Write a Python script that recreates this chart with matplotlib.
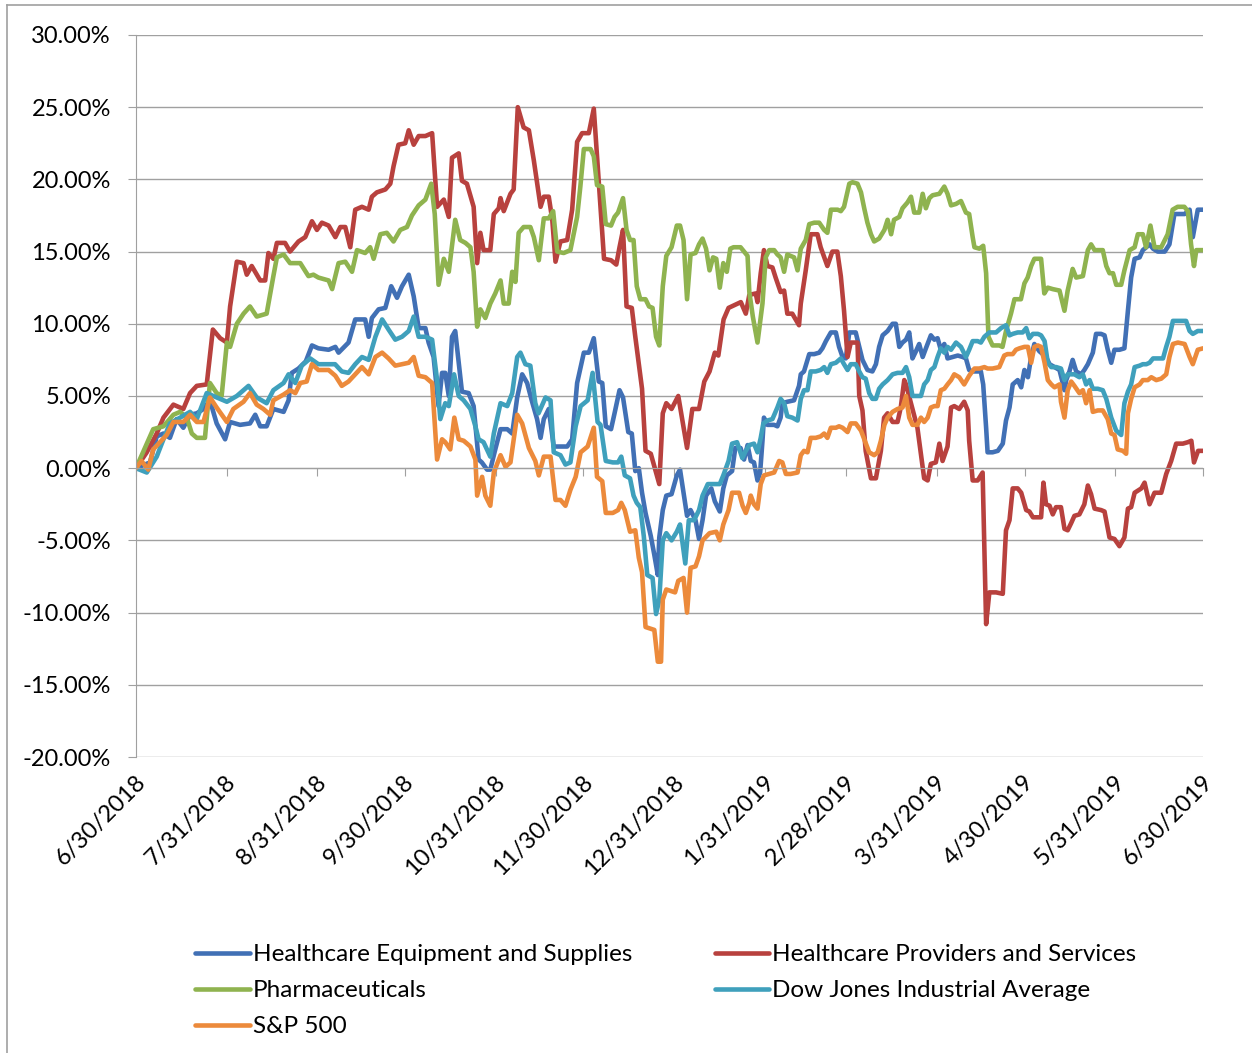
import matplotlib.pyplot as plt
import matplotlib.transforms as mtransforms
from matplotlib.lines import Line2D
import pandas as pd

plt.rcParams["font.family"] = ["Lato", "DejaVu Sans"]

start = pd.Timestamp("2018-06-30")
end = pd.Timestamp("2019-06-30")

# Days after 6/30/2018 and cumulative return (%) for each series
equip_days = [0, 4.8, 7.1, 9.4, 11.6, 13.9, 16.2, 18.5, 20.8, 23.1, 25.3, 27.6, 30.5, 32.2, 35.6, 39.0, 40.8, 42.5, 44.7, 47.0,
              50.5, 52.2, 53.3, 55.6, 58.1, 60.2, 62.4, 65.9, 68.2, 69.3, 72.7, 75.0, 78.4, 79.6, 80.7, 83.0, 85.3, 87.3, 89.3,
              91.0, 93.3, 95.0, 96.7, 99.0, 100.1, 101.8, 103.5, 104.7, 105.8, 107.0, 108.1, 109.2, 110.4, 111.5, 113.8, 115.5,
              117.2, 118.3, 120.1, 121.2, 122.9, 124.7, 127.0, 128.7, 130.4, 132.1, 133.8, 135.5, 137.2, 138.4, 139.5, 141.2,
              142.9, 147.5, 149.2, 150.9, 153.2, 154.9, 156.6, 158.3, 159.5, 160.7, 162.5, 163.7, 165.4, 166.6, 168.4, 169.6,
              170.8, 172.0, 173.1, 174.3, 176.1, 177.3, 178.5, 179.0, 180.2, 181.4, 183.2, 185.0, 186.1, 187.3, 188.5, 189.7,
              191.4, 192.6, 193.8, 195.0, 196.8, 198.0, 199.7, 200.9, 202.1, 203.9, 205.0, 206.8, 208.0, 209.2, 210.3, 211.4,
              212.6, 213.5, 214.3, 214.8, 216.0, 218.3, 219.4, 220.5, 221.1, 222.8, 225.1, 226.8, 227.4, 228.5, 230.3, 232.0,
              233.7, 234.8, 236.0, 237.7, 239.4, 240.5, 241.7, 242.8, 244.0, 246.2, 247.4, 248.5, 250.2, 251.9, 253.1, 254.2,
              255.4, 257.1, 258.8, 259.9, 261.1, 262.2, 263.4, 264.5, 265.6, 266.8, 267.9, 269.1, 270.2, 271.9, 273.1, 274.2,
              275.3, 276.5, 277.6, 279.3, 281.1, 282.8, 283.9, 285.0, 286.2, 287.9, 289.0, 289.8, 290.8, 291.3, 293.0, 294.8,
              296.5, 297.6, 298.8, 299.9, 301.6, 302.8, 303.9, 305.1, 306.2, 307.3, 309.0, 311.3, 312.5, 314.2, 315.9, 317.6,
              318.2, 319.3, 320.4, 321.6, 323.3, 324.4, 325.6, 327.3, 328.4, 330.1, 331.3, 332.4, 333.6, 334.7, 336.4, 338.1,
              339.3, 340.4, 341.6, 343.3, 344.4, 345.6, 346.7, 347.9, 349.5, 351.9, 353.5, 355.2, 356.4, 358.7, 360.4, 361.5,
              363.2, 365.0]
equip_vals = [0, 0.4, 2.2, 2.4, 2.1, 3.4, 2.8, 3.7, 3.8, 4.1, 4.7, 3.1, 2.0, 3.2, 3.0, 3.1, 3.7, 2.9, 2.9, 4.1,
              3.9, 4.7, 6.6, 6.9, 7.4, 8.5, 8.3, 8.2, 8.4, 8.0, 8.7, 10.3, 10.3, 9.1, 10.4, 11.0, 11.1, 12.6, 11.8,
              12.6, 13.4, 11.9, 9.7, 9.7, 8.7, 7.7, 4.3, 6.6, 6.6, 5.0, 9.1, 9.5, 7.3, 5.3, 5.2, 4.3,
              0.6, 0.4, -0.1, -0.1, 1.3, 2.7, 2.7, 2.4, 4.9, 6.5, 5.9, 4.6, 3.4, 2.1, 3.4, 4.1,
              1.5, 1.5, 2.0, 5.9, 8.0, 8.0, 9.0, 6.0, 5.9, 2.9, 2.7, 3.8, 5.4, 4.9, 2.5, 2.4,
              -0.2, 0.0, -1.7, -3.1, -4.7, -6.0, -7.4, -4.8, -2.9, -1.9, -1.8, -0.5, -0.1, -1.7, -3.3, -2.9,
              -3.6, -4.9, -3.6, -1.9, -1.4, -2.3, -3.0, -1.4, -0.5, -0.2, 1.4, 1.4, 0.6, 1.6, 0.5, 0.4,
              -0.85, -0.3, 1.9, 3.5, 3.0, 3.0, 2.9, 3.5, 4.5, 4.6, 4.7, 5.7, 6.5, 6.7, 7.9, 7.9,
              8.0, 8.3, 8.8, 9.4, 9.4, 8.4, 7.7, 7.6, 9.4, 9.4, 8.4, 7.5, 6.8, 6.7, 7.2, 8.4,
              9.2, 9.5, 10.0, 10.0, 8.4, 8.7, 8.9, 9.4, 7.6, 8.1, 8.6, 7.7, 8.3, 9.2, 8.9, 9.0,
              8.2, 8.6, 7.6, 7.7, 7.8, 7.7, 7.6, 6.8, 6.7, 6.7, 6.7, 5.8, 2.8, 1.1, 1.1, 1.2,
              1.7, 3.3, 4.2, 5.8, 6.1, 5.6, 6.8, 6.3, 7.7, 8.6, 8.1, 7.7, 7.2, 7.0, 6.8, 5.4,
              6.1, 6.7, 7.5, 6.7, 6.5, 6.8, 7.2, 8.0, 9.3, 9.3, 9.2, 8.2, 7.3, 8.2, 8.2, 8.3,
              10.9, 13.2, 14.5, 14.6, 15.1, 15.3, 15.5, 15.2, 15.0, 15.0, 15.5, 17.6, 17.6, 17.6, 17.9, 16.0,
              17.9, 17.9]

prov_days = [0, 3.7, 7.1, 9.4, 12.8, 16.2, 18.5, 20.8, 24.2, 26.3, 28.8, 31.1, 32.2, 34.5, 36.8, 37.9, 39.6, 42.5, 44.2,
             45.3, 47.0, 48.2, 51.0, 52.7, 55.6, 57.9, 60.2, 61.9, 63.6, 65.9, 68.2, 69.9, 71.6, 73.3, 75.0, 77.3, 79.6,
             80.7, 82.4, 85.3, 87.0, 88.1, 89.8, 92.1, 93.3, 95.0, 96.7, 99.0, 101.3, 103.0, 105.3, 107.0, 108.1, 110.4,
             111.5, 113.2, 115.5, 116.7, 117.8, 118.9, 121.2, 122.4, 124.1, 124.7, 125.8, 128.1, 129.2, 130.6, 132.6,
             134.4, 136.1, 138.4, 139.5, 141.2, 142.4, 143.5, 145.2, 147.5, 149.2, 150.9, 152.6, 154.9, 156.6, 157.8,
             160.1, 162.5, 164.3, 165.4, 166.6, 167.8, 169.6, 170.8, 173.1, 174.3, 176.1, 179.0, 180.2, 181.4, 183.2,
             185.5, 188.5, 190.3, 192.6, 194.4, 196.2, 198.0, 199.2, 201.0, 202.7, 206.9, 208.6, 209.8, 212.0, 212.6,
             213.7, 214.8, 216.0, 217.7, 218.8, 220.5, 221.7, 222.8, 224.5, 226.8, 227.4, 229.1, 230.8, 233.1, 234.2,
             236.5, 238.2, 239.9, 241.1, 242.2, 243.4, 244.5, 246.8, 247.4, 248.5, 249.6, 251.4, 253.1, 254.8, 255.9,
             257.1, 258.8, 260.5, 261.6, 262.8, 263.4, 267.3, 269.6, 270.8, 271.9, 273.6, 274.8, 275.9, 277.6, 278.8,
             279.9, 281.6, 283.3, 284.5, 285.0, 286.2, 287.9, 289.6, 290.8, 291.9, 294.2, 296.5, 297.6, 298.8, 299.9,
             301.6, 302.8, 304.5, 305.6, 306.8, 308.5, 309.6, 310.4, 311.3, 312.5, 313.6, 314.7, 316.4, 317.6, 318.7,
             319.9, 321.0, 322.7, 324.4, 325.6, 326.7, 327.9, 330.1, 331.3, 333.0, 334.7, 336.4, 338.1, 339.3, 340.4,
             341.6, 343.9, 345.0, 346.7, 348.4, 350.7, 352.4, 354.1, 355.8, 358.1, 359.8, 361.0, 361.9, 363.3, 365.0]
prov_vals = [0, 1.1, 2.4, 3.5, 4.4, 4.1, 5.2, 5.7, 5.8, 9.6, 9.0, 8.7, 11.2, 14.3, 14.2, 13.4, 14.0, 13.0, 13.0,
             14.9, 14.5, 15.6, 15.6, 15.0, 15.7, 16.0, 17.1, 16.5, 17.0, 16.8, 16.0, 16.7, 16.7, 15.3, 17.9, 18.1, 17.9,
             18.8, 19.1, 19.3, 19.7, 20.9, 22.4, 22.5, 23.4, 22.4, 23.0, 23.0, 23.2, 18.1, 18.6, 17.4, 21.5, 21.8,
             19.9, 19.7, 18.1, 14.2, 16.3, 15.1, 15.1, 17.6, 18.0, 18.7, 17.8, 19.0, 19.3, 25.0, 23.6,
             23.4, 21.3, 18.1, 18.8, 18.8, 17.2, 14.3, 15.7, 15.8, 17.9, 22.6, 23.2, 23.2, 24.9, 21.3,
             14.5, 14.4, 14.1, 15.3, 16.5, 11.2, 11.1, 9.1, 5.5, 1.2, 1.0, -1.1, 3.8, 4.5, 4.1,
             5.0, 1.4, 4.1, 4.1, 6.0, 6.7, 8.0, 7.8, 10.3, 11.1, 11.5, 10.7, 12.0, 12.1, 11.5,
             13.5, 15.1, 14.0, 13.9, 13.2, 12.2, 12.3, 10.7, 10.7, 9.9, 11.4, 13.7, 16.2, 16.2, 15.3,
             14.0, 15.0, 15.0, 13.3, 10.9, 7.7, 8.7, 8.7, 5.0, 4.0, 1.2, -0.7, -0.7, 1.2, 3.5,
             3.8, 3.2, 3.2, 4.2, 6.1, 5.8, 2.8, -0.7, -0.85, 0.3, 0.4, 1.7, 0.5, 1.5, 4.2,
             4.3, 4.1, 4.6, 4.0, 1.9, -0.85, -0.85, -0.3, -10.8, -8.6, -8.6, -8.7, -4.3, -3.6, -1.4,
             -1.4, -1.7, -2.9, -3.0, -3.4, -3.4, -3.4, -1.0, -2.5, -2.6, -3.2, -2.7, -2.7, -4.2, -4.3,
             -3.8, -3.3, -3.2, -2.5, -1.2, -1.8, -2.8, -2.9, -3.0, -4.8, -4.9, -5.4, -4.8, -2.8, -2.7,
             -1.7, -1.4, -1.0, -2.5, -1.7, -1.7, -0.4, 0.5, 1.7, 1.7, 1.8, 1.9, 0.4, 1.2, 1.2]

pharma_days = [0, 5.9, 9.4, 12.8, 15.1, 17.4, 19.1, 20.8, 23.6, 25.3, 27.6, 29.3, 31.1, 32.2, 34.5, 36.8, 39.0, 41.3, 44.7,
               47.0, 48.2, 50.5, 52.7, 56.2, 59.0, 60.7, 62.4, 65.9, 67.1, 69.3, 71.6, 73.9, 75.6, 78.4, 80.1, 81.3, 83.6,
               85.8, 88.1, 90.4, 92.7, 94.4, 96.7, 99.0, 101.0, 102.2, 103.5, 105.3, 107.0, 109.2, 110.9, 112.7, 114.4,
               115.5, 116.7, 117.8, 119.5, 121.2, 122.9, 124.7, 125.8, 127.5, 128.7, 129.8, 130.9, 132.6, 134.9, 136.1,
               137.8, 139.5, 141.2, 142.7, 144.1, 146.3, 148.6, 150.9, 152.0, 153.2, 155.5, 156.6, 157.7, 159.5, 160.7,
               162.5, 163.7, 164.9, 166.6, 167.8, 169.0, 170.2, 171.3, 172.5, 174.3, 175.5, 176.7, 177.9, 179.0, 180.2,
               181.4, 183.2, 185.0, 186.1, 187.3, 188.5, 189.7, 191.4, 192.6, 193.8, 195.0, 196.2, 197.4, 198.5, 199.7,
               200.9, 202.1, 203.3, 204.4, 206.8, 209.2, 209.8, 211.0, 212.6, 214.3, 215.4, 216.6, 218.3, 219.4, 220.5,
               221.7, 222.8, 223.9, 225.1, 226.3, 227.4, 229.1, 230.3, 232.0, 233.7, 235.4, 236.5, 237.7, 240.0, 241.1,
               242.2, 244.0, 245.1, 246.8, 248.0, 249.1, 250.2, 251.4, 252.5, 254.2, 256.0, 257.1, 258.3, 259.3, 261.1,
               262.2, 263.9, 265.1, 266.2, 267.9, 269.1, 270.2, 271.4, 272.5, 274.8, 276.5, 277.6, 278.8, 280.5, 282.2,
               283.9, 285.0, 286.2, 286.8, 288.5, 289.8, 290.8, 291.6, 293.0, 295.3, 296.4, 297.6, 299.3, 300.5, 302.7,
               303.9, 305.0, 306.2, 307.3, 309.6, 310.7, 311.9, 313.6, 315.9, 317.6, 318.7, 320.4, 321.6, 323.9, 325.6,
               326.7, 327.9, 330.7, 331.9, 333.0, 334.2, 335.3, 337.0, 338.1, 339.9, 341.6, 342.7, 344.4, 345.5, 347.0,
               348.4, 350.7, 352.9, 354.6, 356.3, 358.6, 359.8, 360.9, 361.9, 362.7, 364.4, 365.0]
pharma_vals = [0, 2.7, 2.9, 3.7, 3.9, 3.5, 2.4, 2.1, 2.1, 5.9, 5.2, 5.0, 8.7, 8.4, 10.0, 10.7, 11.2, 10.5, 10.7,
               13.3, 14.6, 14.8, 14.2, 14.2, 13.3, 13.4, 13.2, 13.0, 12.4, 14.2, 14.3, 13.6, 15.1, 14.9, 15.3, 14.5, 16.2,
               16.3, 15.7, 16.5, 16.7, 17.5, 18.2, 18.6, 19.7, 17.6, 12.7, 14.5, 13.6, 17.2, 15.8, 15.6, 15.3,
               13.6, 9.8, 11.0, 10.4, 11.4, 12.1, 13.0, 11.4, 11.4, 13.6, 12.9, 16.3, 16.7, 16.7, 16.0,
               14.4, 17.3, 17.3, 17.8, 15.0, 14.9, 15.1, 17.4, 19.5, 22.1, 22.1, 21.6, 19.6, 19.5, 16.9,
               16.8, 17.4, 17.7, 18.7, 16.5, 15.8, 15.8, 12.6, 11.7, 11.7, 11.2, 11.1, 9.1, 8.5, 12.6,
               14.7, 15.3, 16.8, 16.8, 15.8, 11.7, 14.8, 14.9, 15.5, 15.9, 15.2, 13.7, 14.6, 14.5, 12.5,
               14.2, 13.6, 15.2, 15.3, 15.3, 14.7, 12.2, 10.5, 8.7, 11.4, 14.6, 15.1, 15.1, 14.8, 14.6,
               13.6, 14.8, 14.7, 14.6, 13.7, 15.2, 15.8, 16.9, 17.0, 17.0, 16.5, 16.3, 17.9, 17.9, 17.8,
               18.1, 19.7, 19.8, 19.7, 19.1, 18.0, 17.0, 16.2, 15.7, 15.9, 16.5, 17.2, 16.2, 17.2, 17.4,
               18.0, 18.4, 18.8, 17.7, 17.7, 19.0, 18.0, 18.7, 18.9, 19.0, 19.5, 19.0, 18.2, 18.3, 18.5,
               17.7, 17.6, 16.0, 15.3, 15.2, 15.4, 13.5, 9.1, 8.5, 8.5, 8.4, 9.5, 10.7, 11.7, 11.7,
               12.8, 13.2, 14.0, 14.5, 14.5, 12.1, 12.5, 12.4, 12.3, 10.9, 12.3, 13.8, 13.2, 13.3, 15.1,
               15.5, 15.1, 15.1, 14.0, 13.5, 13.5, 12.7, 12.7, 13.7, 15.1, 15.3, 16.2, 16.2, 15.3, 16.8,
               15.3, 15.3, 16.2, 17.9, 18.1, 18.1, 17.8, 15.5, 14.0, 15.1, 15.1, 15.1]

dow_days = [0, 3.7, 7.1, 9.4, 11.6, 15.1, 18.5, 20.8, 24.2, 27.6, 31.1, 34.5, 38.5, 41.3, 44.7, 47.0, 50.5, 52.2, 54.5,
            56.7, 59.6, 62.4, 68.1, 70.4, 72.7, 75.0, 77.3, 79.6, 81.9, 84.2, 86.4, 88.7, 91.0, 93.3, 95.0, 96.7, 99.0,
            101.3, 103.0, 104.1, 105.8, 107.0, 108.8, 110.4, 112.1, 114.4, 116.1, 117.2, 118.9, 121.2, 122.4, 124.7,
            127.0, 128.7, 130.4, 131.5, 133.2, 134.9, 136.6, 137.7, 140.1, 141.8, 142.9, 145.2, 146.9, 148.6, 150.4,
            152.1, 154.5, 156.2, 157.9, 158.9, 160.7, 163.1, 164.9, 166.0, 167.2, 169.0, 170.2, 171.3, 172.5, 173.7,
            174.9, 176.7, 177.9, 179.0, 180.2, 181.4, 183.2, 185.0, 186.1, 187.9, 189.1, 190.9, 192.6, 193.8, 195.6,
            198.0, 199.7, 200.9, 202.7, 203.9, 205.6, 207.4, 208.6, 209.8, 211.4, 212.6, 213.7, 214.6, 216.0, 217.7,
            219.4, 220.5, 221.7, 222.8, 224.5, 226.3, 227.4, 228.5, 229.7, 230.8, 232.5, 234.2, 235.4, 236.5, 237.7,
            239.4, 241.1, 242.2, 243.4, 244.5, 246.2, 247.4, 248.5, 249.6, 250.8, 251.9, 253.1, 254.2, 255.4, 257.1,
            258.8, 260.5, 262.2, 263.4, 264.5, 265.6, 268.5, 269.6, 270.8, 271.9, 273.1, 274.2, 275.3, 276.5, 277.6,
            278.8, 280.5, 282.2, 283.9, 285.0, 286.2, 287.9, 289.0, 290.2, 291.9, 294.2, 295.9, 297.6, 298.8, 299.9,
            301.6, 303.3, 304.5, 305.6, 306.8, 308.5, 309.6, 310.8, 311.9, 313.1, 314.8, 316.4, 317.6, 318.7, 321.0,
            322.7, 323.9, 325.0, 326.2, 327.3, 329.0, 330.7, 331.9, 333.6, 335.3, 337.0, 338.1, 339.3, 340.4, 341.6,
            343.3, 344.4, 345.6, 346.7, 347.9, 349.5, 351.3, 352.4, 353.5, 354.7, 356.4, 358.1, 359.2, 360.4, 361.5,
            363.2, 365.0]
dow_vals = [0, -0.3, 0.8, 2.0, 3.1, 3.5, 3.9, 3.4, 5.2, 4.9, 4.6, 5.0, 5.7, 4.9, 4.5, 5.4, 5.9, 6.5, 5.9,
            7.1, 7.6, 7.2, 7.2, 6.7, 6.6, 7.2, 7.7, 7.5, 9.1, 10.3, 9.6, 8.9, 9.1, 9.5, 10.5, 9.1, 9.1,
            8.9, 6.1, 3.4, 4.5, 4.3, 6.5, 5.0, 4.7, 4.1, 2.9, 2.0, 1.8, 0.8, 2.4, 4.5,
            4.3, 5.2, 7.7, 8.0, 7.2, 7.1, 4.5, 3.8, 4.9, 4.7, 1.1, 0.9, 0.25, 0.4, 2.9,
            4.3, 4.7, 6.6, 3.2, 3.0, 0.5, 0.4, 0.4, 0.8, -0.5, -0.7, -1.9, -2.4, -2.7, -4.7,
            -7.4, -7.6, -10.1, -9.1, -5.0, -4.5, -5.0, -4.4, -3.9, -6.6, -3.6, -3.6, -2.9, -1.9, -1.1,
            -1.1, -1.1, -0.5, 0.5, 1.7, 1.8, 0.7, 1.2, 1.6, 1.7, 1.1, 2.1, 3.1, 3.3, 3.4,
            4.2, 4.8, 4.5, 3.6, 3.5, 3.3, 4.8, 5.4, 5.4, 6.7, 6.7, 6.8, 7.0, 6.6, 7.2,
            7.3, 7.6, 7.2, 6.8, 7.2, 7.2, 6.7, 6.3, 6.2, 5.2, 4.8, 4.8, 5.5, 5.8, 6.1,
            6.5, 6.6, 6.6, 7.0, 6.3, 5.0, 5.0, 5.8, 6.1, 6.8, 7.0, 7.7, 8.3, 8.0, 8.4,
            8.2, 8.7, 8.4, 7.7, 8.2, 8.8, 8.8, 8.7, 9.1, 9.4, 9.4, 9.7, 9.9, 9.2, 9.3,
            9.4, 9.4, 9.7, 9.0, 9.3, 9.3, 9.2, 8.8, 7.3, 7.0, 7.0, 6.9, 6.1, 6.5, 6.5,
            6.3, 6.5, 5.8, 6.1, 5.5, 5.5, 5.4, 4.8, 3.5, 2.6, 2.3, 4.5, 5.3, 5.8, 7.0,
            7.1, 7.2, 7.2, 7.3, 7.6, 7.6, 7.6, 8.4, 9.1, 10.2, 10.2, 10.2, 10.2, 9.5, 9.3,
            9.5, 9.5]

sp_days = [0, 1.9, 4.2, 5.9, 8.2, 10.5, 12.8, 16.2, 18.5, 20.8, 23.1, 25.3, 27.6, 31.1, 33.3, 36.8, 39.0, 41.3, 43.6,
           45.9, 47.0, 50.5, 52.7, 54.5, 56.2, 58.4, 60.2, 62.4, 65.9, 68.2, 70.4, 72.7, 75.0, 77.3, 79.6, 81.9, 84.2,
           86.4, 88.7, 91.0, 93.3, 95.0, 96.7, 99.0, 101.3, 103.0, 104.7, 105.8, 107.5, 108.9, 110.4, 112.1, 114.4,
           116.1, 116.7, 118.4, 119.5, 121.2, 122.4, 124.7, 126.4, 128.1, 130.4, 132.1, 134.4, 136.6, 137.8, 139.5,
           141.8, 143.5, 145.2, 146.9, 148.6, 150.4, 152.1, 154.5, 156.6, 157.7, 159.5, 160.7, 163.1, 164.9, 166.0,
           167.2, 169.0, 170.8, 172.0, 173.1, 174.3, 177.3, 178.5, 179.6, 180.2, 181.4, 184.4, 185.5, 187.3, 188.5,
           189.7, 191.4, 192.6, 193.8, 196.2, 198.5, 199.7, 200.9, 202.7, 203.9, 206.3, 207.5, 208.6, 209.8, 210.3,
           211.4, 212.6, 213.7, 214.8, 216.6, 218.3, 220.0, 221.1, 222.3, 223.9, 226.3, 227.4, 228.5, 229.7, 230.8,
           232.5, 234.2, 235.4, 236.5, 237.7, 239.4, 240.5, 241.7, 243.4, 244.5, 246.2, 248.0, 249.7, 250.8, 252.5,
           253.7, 254.8, 256.0, 257.1, 258.8, 260.5, 262.2, 263.4, 264.5, 265.6, 267.3, 268.5, 269.6, 270.8, 271.9,
           273.1, 274.2, 275.3, 276.5, 277.6, 278.8, 279.9, 281.6, 283.3, 285.0, 286.8, 288.5, 290.2, 291.3, 293.0,
           295.3, 297.0, 298.1, 299.9, 301.0, 302.2, 303.9, 305.1, 306.2, 307.3, 308.5, 309.6, 310.8, 311.9, 313.1,
           314.2, 315.9, 316.4, 317.6, 318.7, 319.9, 321.0, 322.7, 323.9, 325.0, 326.2, 327.3, 329.0, 330.7, 332.4,
           333.6, 334.7, 335.8, 337.6, 338.7, 339.3, 340.4, 341.6, 343.3, 344.4, 346.1, 347.3, 349.0, 350.7, 352.4,
           353.5, 354.7, 356.4, 358.7, 360.4, 361.5, 363.2, 365.0]
sp_vals = [0, 0.5, -0.1, 1.3, 1.8, 2.3, 3.2, 3.2, 3.7, 3.2, 3.2, 4.9, 4.2, 3.2, 4.1, 4.6, 5.2, 4.4, 4.1,
           3.7, 4.7, 5.1, 5.4, 5.2, 5.9, 6.0, 7.2, 6.8, 6.8, 6.4, 5.7, 6.0, 6.5, 7.0, 6.5, 7.7, 8.0,
           7.6, 7.1, 7.2, 7.3, 7.7, 6.4, 6.3, 5.9, 0.6, 2.0, 1.8, 1.3, 3.5, 2.0, 1.9, 1.5,
           0.6, -1.9, -0.6, -1.9, -2.6, -0.3, 0.9, 0.1, 0.4, 3.7, 3.1, 1.4, 0.5, -0.5, 0.8,
           0.8, -2.2, -2.2, -2.6, -1.5, -0.6, 1.1, 1.5, 2.8, -0.6, -0.9, -3.1, -3.1, -2.9, -2.4,
           -2.9, -4.4, -4.3, -6.2, -7.2, -11.0, -11.2, -13.4, -13.4, -9.1, -8.4, -8.6, -7.8, -7.6, -10.0,
           -6.9, -6.8, -6.1, -5.0, -4.5, -4.4, -5.0, -3.9, -2.9, -1.7, -1.7, -2.6, -3.1, -2.4, -1.9,
           -2.5, -2.8, -1.1, -0.5, -0.4, -0.3, 0.5, 0.4, -0.4, -0.4, -0.3, 0.9, 1.2, 1.1, 2.1,
           2.1, 2.2, 2.4, 2.1, 2.8, 2.8, 2.9, 2.8, 2.5, 3.1, 3.1, 2.6, 1.7, 1.1, 0.9,
           1.1, 1.9, 3.0, 3.5, 3.9, 4.1, 4.2, 5.0, 3.5, 3.0, 3.0, 3.5, 3.2, 3.5, 4.2,
           4.3, 4.3, 5.4, 5.5, 5.8, 6.1, 6.5, 6.3, 5.8, 6.4, 6.9, 6.9, 7.0, 6.9, 6.9,
           7.0, 7.8, 7.9, 7.9, 8.2, 8.3, 8.4, 8.4, 7.3, 8.4, 8.5, 8.4, 7.3, 6.1, 5.8,
           5.6, 5.8, 4.6, 3.5, 5.4, 6.0, 5.7, 5.2, 5.4, 4.5, 5.4, 3.9, 4.0, 4.0, 3.4,
           2.4, 2.3, 1.3, 1.2, 1.0, 3.8, 4.8, 5.6, 5.8, 6.1, 6.1, 6.3, 6.1, 6.2, 6.5,
           7.7, 8.6, 8.7, 8.6, 7.7, 7.2, 8.2, 8.3]

series_names = ["Healthcare Equipment and Supplies", "Healthcare Providers and Services",
                "Pharmaceuticals", "Dow Jones Industrial Average", "S&P 500"]
series_colors = ["#4170B5", "#B8413E", "#8FB34F", "#3FA0BC", "#EC8A3B"]

tick_labels = ["6/30/2018", "7/31/2018", "8/31/2018", "9/30/2018", "10/31/2018", "11/30/2018", "12/31/2018",
               "1/31/2019", "2/28/2019", "3/31/2019", "4/30/2019", "5/31/2019", "6/30/2019"]
y_ticks = [-20, -15, -10, -5, 0, 5, 10, 15, 20, 25, 30]

all_days = [equip_days, prov_days, pharma_days, dow_days, sp_days]
all_vals = [equip_vals, prov_vals, pharma_vals, dow_vals, sp_vals]

gray = "#A0A0A0"
fs = 17

fig = plt.figure(figsize=(12.52, 10.53), dpi=100)
ax = fig.add_axes([0.1086, 0.2811, 0.8523, 0.6857])

lines = []
for name, days, vals, color in zip(series_names, all_days, all_vals, series_colors):
    dates = start + pd.to_timedelta(days, unit="D")
    ln, = ax.plot(dates, vals, color=color, lw=3.3, label=name,
                  solid_joinstyle="round", solid_capstyle="round")
    lines.append(ln)

ax.set_xlim(start, end)
ax.set_ylim(-20, 30)
ax.set_yticks(y_ticks)
ax.set_yticklabels([f"{v:.2f}%" for v in y_ticks], fontsize=fs)
ax.grid(axis="y", color=gray, lw=1.0)
ax.set_axisbelow(True)

for side in ["top", "right"]:
    ax.spines[side].set_visible(False)
ax.spines["left"].set_color(gray)
ax.spines["bottom"].set_color(gray)
ax.spines["bottom"].set_position(("data", 0))

tick_dates = pd.to_datetime(tick_labels, format="%m/%d/%Y")
ax.set_xticks(tick_dates)
ax.tick_params(axis="x", direction="out", length=6, color=gray, labelbottom=False)
ax.tick_params(axis="y", direction="out", length=6, color=gray, pad=12)

# date labels sit below the plot area, rotated like Excel
lab_trans = mtransforms.offset_copy(ax.get_xaxis_transform(), fig=fig, x=6, y=-22, units="dots")
for d, lab in zip(tick_dates, tick_labels):
    ax.text(d, 0, lab, transform=lab_trans, rotation=45, rotation_mode="anchor",
            ha="right", va="center", fontsize=fs)

# legend rows: Equip / Providers, Pharma / Dow, S&P
order = [0, 2, 4, 1, 3]
fig.legend([lines[i] for i in order], [series_names[i] for i in order],
           ncol=2, loc="upper left", bbox_to_anchor=(195 / 1252, 1 - 944 / 1053),
           frameon=False, fontsize=17.5, handlelength=2.25, handletextpad=0.12,
           columnspacing=3.4, labelspacing=0.62, borderpad=0, borderaxespad=0)

# chart area border (top and left edges visible)
fig.add_artist(Line2D([7 / 1252, 7 / 1252], [0, 1 - 5 / 1053], color=gray, lw=1.2, transform=fig.transFigure))
fig.add_artist(Line2D([7 / 1252, 1], [1 - 5 / 1053, 1 - 5 / 1053], color=gray, lw=1.2, transform=fig.transFigure))

fig.savefig("out.png", dpi=100)
